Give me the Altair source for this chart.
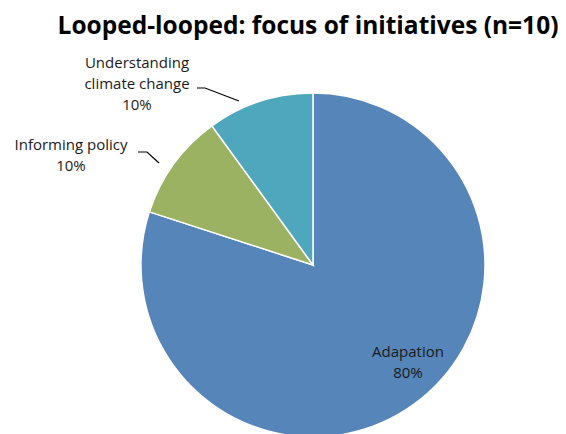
import altair as alt
import pandas as pd

categories = ["Adapation", "Informing policy", "Understanding climate change"]
shares = [80, 10, 10]
colors = ["#5585B9", "#9BB262", "#4EA7BD"]

label_lines = [["Adapation", "80%"], ["Informing policy", "10%"], ["Understanding", "climate change", "10%"]]
label_x = [400, 63, 129]
label_y = [344, 137, 55]

leader_x = [[130, 139, 151], [189, 197, 231]]
leader_y = [[144, 144, 155], [80, 80, 93]]

title_text = "Looped-looped: focus of initiatives (n=10)"

CX, CY, R = 305, 257, 172

pie_df = pd.DataFrame({"category": categories, "share": shares, "order": [0, 1, 2]})

pie = alt.Chart(pie_df).mark_arc(
    outerRadius=R, stroke="white", strokeWidth=1.5
).encode(
    theta=alt.Theta("share:Q", stack=True),
    order=alt.Order("order:Q"),
    color=alt.Color("category:N", scale=alt.Scale(domain=categories, range=colors), legend=None),
    x=alt.value(CX),
    y=alt.value(CY),
)

lab_df = pd.DataFrame({"text": label_lines, "x": label_x, "y": label_y})
labels = alt.Chart(lab_df).mark_text(
    font="Open Sans", fontSize=15, color="#1a1a1a", align="center", baseline="middle", lineHeight=21
).encode(
    x=alt.X("x:Q", scale=None),
    y=alt.Y("y:Q", scale=None),
    text="text",
)

rows = []
for i, (xs, ys) in enumerate(zip(leader_x, leader_y)):
    for j, (a, b) in enumerate(zip(xs, ys)):
        rows.append({"grp": i, "k": j, "x": a, "y": b})
lead_df = pd.DataFrame(rows)
leaders = alt.Chart(lead_df).mark_line(color="black", strokeWidth=1.2).encode(
    x=alt.X("x:Q", scale=None),
    y=alt.Y("y:Q", scale=None),
    detail="grp:N",
    order="k:Q",
)

title = alt.Chart(pd.DataFrame({"t": [title_text]})).mark_text(
    font="Open Sans", fontSize=24.5, fontWeight="bold", color="black", align="center", baseline="alphabetic"
).encode(x=alt.value(300), y=alt.value(26), text="t:N")

chart = alt.layer(pie, leaders, labels, title).properties(
    width=550, height=426, padding=0, autosize=alt.AutoSizeParams(type="none")
).configure_view(stroke=None)

chart.save("out.html", embed_options={"renderer": "svg", "actions": False})
